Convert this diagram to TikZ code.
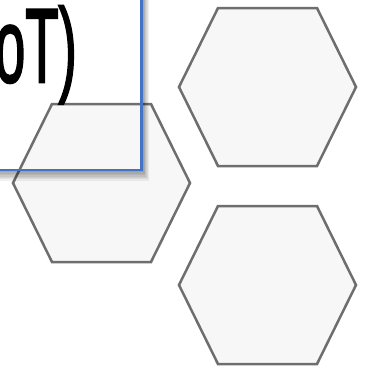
\documentclass[tikz,border=0pt]{standalone}
\usepackage{fontspec}
\usepackage{graphicx}
\setmainfont{Liberation Sans}
\newfontfamily\titlefont[FakeBold=2.5]{Liberation Sans}
\definecolor{hexfill}{HTML}{F7F7F7}
\definecolor{hexline}{HTML}{6E6E6E}
\definecolor{boxblue}{HTML}{4472C4}
\begin{document}
\begin{tikzpicture}[x=1pt,y=-1pt,
  hexa/.style={fill=hexfill,draw=hexline,line width=2.5pt,line join=miter},
  bluebox/.style={draw=boxblue,line width=2.5pt},
  bigtext/.style={font=\titlefont\fontsize{105}{105}\selectfont,inner sep=0pt}]
\useasboundingbox (0,0) rectangle (365,368);
\clip (0,0) rectangle (365,368);
\newcommand\hexat[3]{%
  \draw[hexa] (#1,#2) ++(-88.5,0) -- ++(39,-79) -- ++(99,0) -- ++(39,79) -- ++(-39,79) -- ++(-99,0) -- cycle;
  \coordinate (#3) at (#1,#2);}
\hexat{101.5}{183}{hleft}
\hexat{267.5}{87}{htop}
\hexat{267.5}{285}{hbot}
% shadow of the box
\begin{scope}[even odd rule]
  \clip (-30,-30) rectangle (400,400) (-10,-10) rectangle (143,171);
  \foreach \r in {1,...,7}{
    \fill[black,opacity=0.06] (-20,-20) rectangle (143+0.8*\r,171+1.4*\r);
  }
\end{scope}
\node[bluebox,minimum width=153pt,minimum height=181pt,anchor=south east,inner sep=0pt] (box) at (143,171) {};
\node[bigtext,anchor=base east] (title) at (77,82) {\scalebox{0.52}[1]{oT)}};
\end{tikzpicture}
\end{document}
